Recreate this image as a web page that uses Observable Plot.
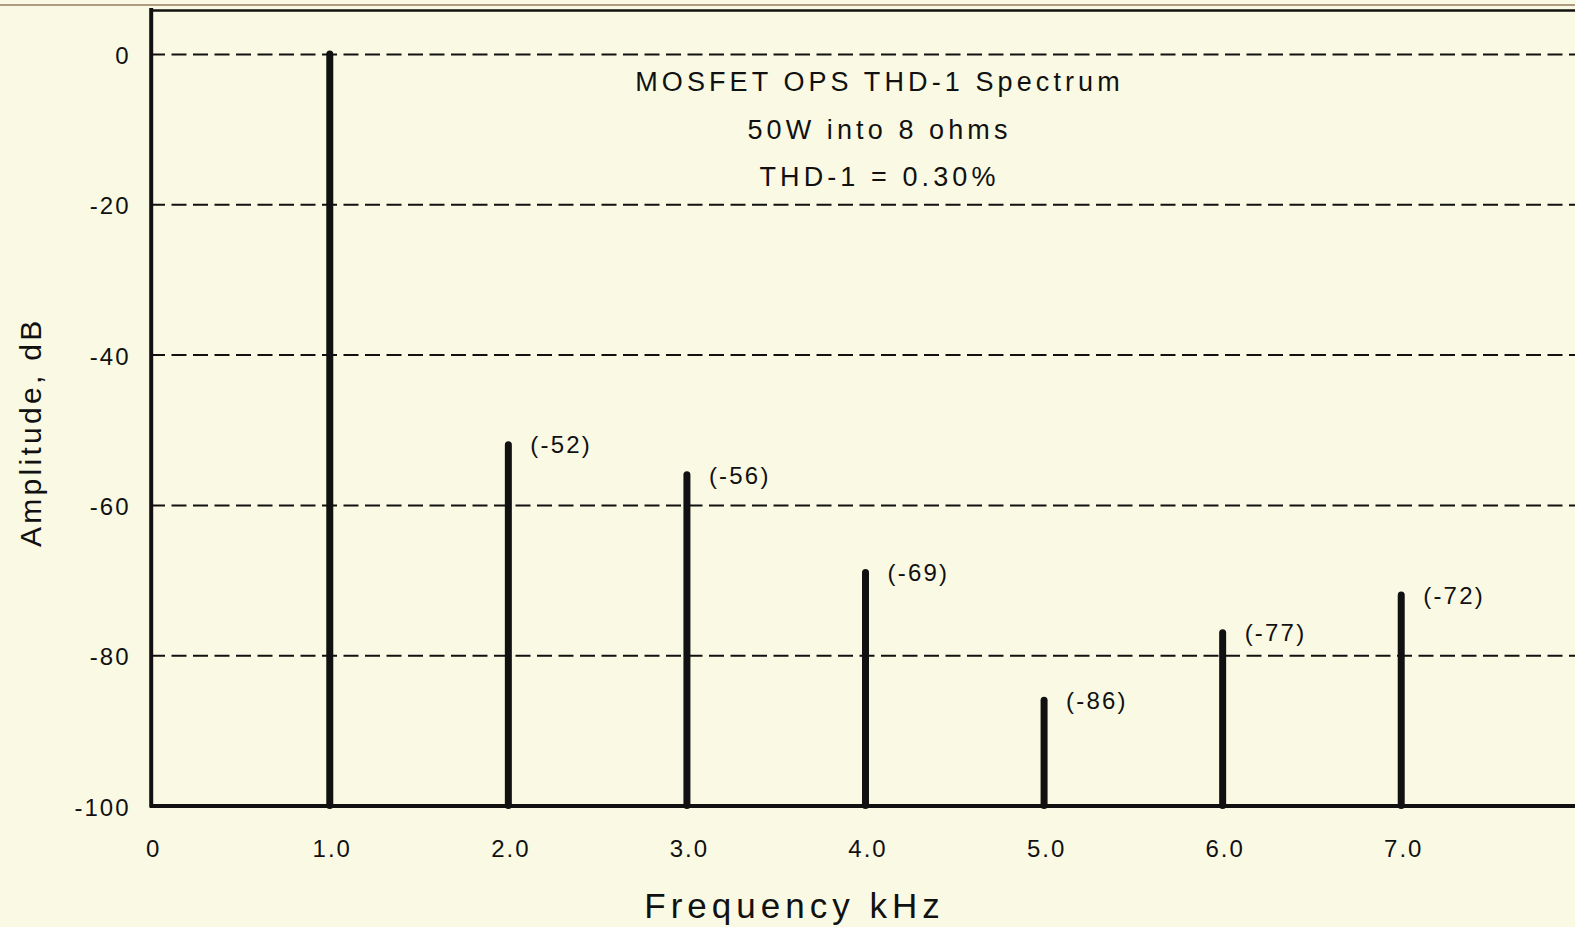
<!DOCTYPE html>
<html>
<head>
<meta charset="utf-8">
<script src="https://cdn.jsdelivr.net/npm/d3@7"></script>
<script src="https://cdn.jsdelivr.net/npm/@observablehq/plot@0.6"></script>
<style>
  html, body { margin: 0; padding: 0; background: #fafae4; overflow: hidden; }
  #topline { position: absolute; left: 0; top: 4px; width: 100%; height: 1.5px; background: #ad9c80; z-index: 2; }
  #chart { position: absolute; left: 0; top: 0; }
  #chart svg text { font-family: "Liberation Sans", Arial, sans-serif; letter-spacing: 2px; }
</style>
</head>
<body>
<div id="topline"></div>
<div id="chart"></div>
<script>
// ---- data ----
const harmonics = [1, 2, 3, 4, 5, 6, 7];               // kHz
const amplitudes = [0, -52, -56, -69, -86, -77, -72];  // dB
const xTicks = [0, 1, 2, 3, 4, 5, 6, 7];
const xTickLabels = ["0", "1.0", "2.0", "3.0", "4.0", "5.0", "6.0", "7.0"];
const yTicks = [0, -20, -40, -60, -80, -100];
const yTickLabels = ["0", "-20", "-40", "-60", "-80", "-100"];
const titleLines = ["MOSFET OPS THD-1 Spectrum", "50W into 8 ohms", "THD-1 = 0.30%"];
const xLabel = "Frequency kHz";
const yLabel = "Amplitude, dB";
const xDomain = [0, 8];
const yDomain = [-100, 5.85];

const data = harmonics.map((h, i) => ({freq: h, amp: amplitudes[i]}));
const ink = "#111";

const chart = Plot.plot({
  width: 1575,
  height: 927,
  marginLeft: 150,
  marginRight: 0,
  marginTop: 10,
  marginBottom: 121.5,
  x: {domain: xDomain, range: [150.7, 1579.3]},
  y: {domain: yDomain, range: [805.5, 10]},
  style: {background: "#fafae4", color: ink, fontFamily: "Liberation Sans, Arial, sans-serif"},
  marks: [
    // dashed grid
    Plot.ruleY(yTicks.filter(v => v > yDomain[0]), {stroke: ink, strokeWidth: 2, strokeDasharray: "15,6.5"}),
    // frame lines
    Plot.ruleY([yDomain[0]], {stroke: ink, strokeWidth: 4}),
    Plot.ruleY([yDomain[1]], {stroke: ink, strokeWidth: 2.5}),
    Plot.ruleX([xDomain[0]], {stroke: ink, strokeWidth: 4, strokeLinecap: "square"}),
    // spectral lines
    Plot.ruleX(data, {x: "freq", y1: yDomain[0], y2: "amp", stroke: ink, strokeWidth: 7, strokeLinecap: "round"}),
    // value labels
    Plot.text(data.filter(d => d.freq > 1), {
      x: "freq", y: "amp", text: d => `(${d.amp})`,
      textAnchor: "start", lineAnchor: "middle", dx: 22, dy: 0.5, fontSize: 24, fill: ink
    }),
    // axes
    Plot.axisX(xTicks, {
      tickFormat: d => xTickLabels[xTicks.indexOf(d)],
      tickSize: 0, tickPadding: 33.5, fontSize: 24, dx: 2.5, label: null, fill: ink
    }),
    Plot.axisY(yTicks, {
      tickFormat: d => yTickLabels[yTicks.indexOf(d)],
      tickSize: 0, tickPadding: 20, fontSize: 24, dy: 2, label: null, fill: ink
    }),
    // title block
    Plot.text([titleLines.join("\n")], {
      text: d => d, frameAnchor: "top", lineAnchor: "middle", textAnchor: "middle",
      lineHeight: 1.75, fontSize: 27, dx: 16.5, dy: 113, fill: ink
    }),
    // axis labels
    Plot.text([xLabel], {
      text: d => d, frameAnchor: "bottom", lineAnchor: "middle", textAnchor: "middle",
      fontSize: 35, dx: -68.5, dy: 101, fill: ink
    }),
    Plot.text([yLabel], {
      text: d => d, frameAnchor: "left", lineAnchor: "middle", textAnchor: "middle",
      rotate: -90, fontSize: 30, dx: -119, dy: 24, fill: ink
    })
  ]
});

// letter spacing per text role
chart.querySelectorAll("text").forEach(t => {
  const s = t.textContent;
  if (titleLines.some(l => s.includes(l))) t.style.letterSpacing = "4.1px";
  else if (s === xLabel) t.style.letterSpacing = "5px";
  else if (s === yLabel) t.style.letterSpacing = "3.3px";
  else if (s.startsWith("(")) t.style.letterSpacing = "2.2px";
});

document.getElementById("chart").appendChild(chart);
</script>
</body>
</html>
